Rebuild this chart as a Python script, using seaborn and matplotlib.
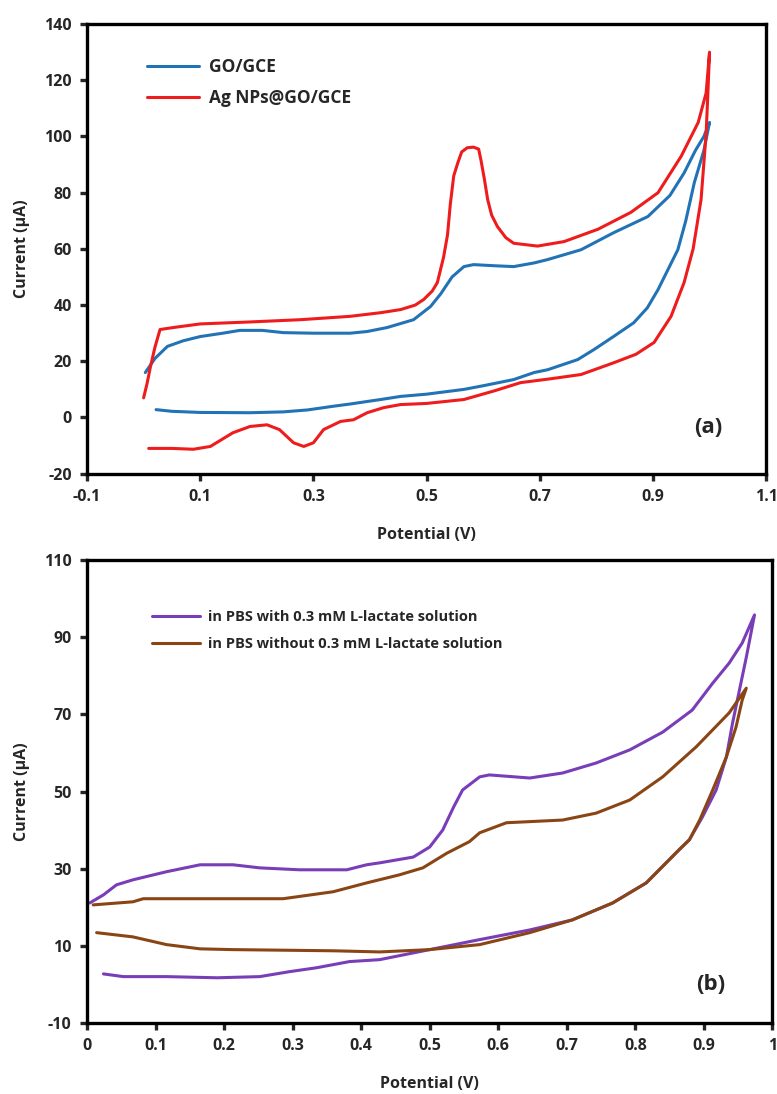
import pandas as pd
import matplotlib
matplotlib.use("Agg")
import matplotlib.pyplot as plt
import seaborn as sns

# (a) GO/GCE cyclic voltammogram, forward sweep then reverse sweep
go_v = [0.003, 0.02, 0.042, 0.07, 0.1, 0.14, 0.17, 0.21, 0.247, 0.3, 0.365, 0.395, 0.43, 0.477,
        0.507, 0.525, 0.545, 0.566, 0.583, 0.62, 0.654, 0.69, 0.714, 0.773, 0.831, 0.891, 0.93,
        0.955, 0.975, 0.99, 1.0,
        0.99, 0.973, 0.958, 0.944, 0.925, 0.909, 0.89, 0.866, 0.831, 0.796, 0.767, 0.714, 0.69,
        0.654, 0.6, 0.566, 0.5, 0.454, 0.419, 0.395, 0.365, 0.335, 0.29, 0.247, 0.188, 0.1, 0.05, 0.022]
go_i = [16, 21, 25.3, 27.3, 28.8, 30, 31, 31, 30.2, 30, 30, 30.6, 32, 34.8,
        39.5, 44, 50, 53.7, 54.4, 54, 53.7, 55, 56.2, 59.7, 65.8, 71.5, 79,
        87, 95, 100, 105,
        95, 83.5, 70, 59.7, 52, 45.5, 39, 33.7, 28.9, 24.2, 20.6, 17, 16,
        13.5, 11.3, 10, 8.3, 7.5, 6.4, 5.7, 4.8, 4, 2.7, 2, 1.7, 1.8, 2.2, 2.8]

# (a) Ag NPs@GO/GCE
ag_v = [0.0, 0.006, 0.012, 0.02, 0.029, 0.052, 0.1, 0.188, 0.277, 0.365, 0.419, 0.454, 0.48, 0.495,
        0.51, 0.519, 0.53, 0.537, 0.542, 0.548, 0.555, 0.562, 0.572, 0.583, 0.592, 0.596, 0.602,
        0.608, 0.615, 0.625, 0.64, 0.654, 0.696, 0.743, 0.803, 0.861, 0.909, 0.95, 0.98, 0.994, 1.0,
        0.997, 0.994, 0.985, 0.971, 0.955, 0.932, 0.902, 0.87, 0.831, 0.773, 0.72, 0.666, 0.62,
        0.566, 0.5, 0.454, 0.424, 0.395, 0.371, 0.348, 0.318, 0.3, 0.283, 0.265, 0.24, 0.218,
        0.188, 0.158, 0.118, 0.088, 0.05, 0.009]
ag_i = [7, 12, 18, 25, 31.3, 32, 33.3, 34, 34.8, 36, 37.3, 38.4, 40, 42,
        45, 48, 57, 65, 76, 86, 90.5, 94.5, 96, 96.2, 95.5, 91.7, 85,
        77.5, 72, 68, 64, 62, 61, 62.6, 67, 73, 80, 93, 105, 115.5, 130,
        115, 101, 77.5, 60, 48, 36, 26.7, 22.5, 19.5, 15.3, 13.8, 12.4, 9.5,
        6.4, 5, 4.6, 3.5, 1.7, -0.8, -1.4, -4.3, -9, -10.3, -9, -4.3, -2.6,
        -3.2, -5.4, -10.3, -11.3, -11, -11]

# (b) with 0.3 mM L-lactate
with_v = [0.004, 0.024, 0.043, 0.067, 0.116, 0.165, 0.213, 0.252, 0.31, 0.379, 0.408, 0.427, 0.476,
          0.5, 0.519, 0.535, 0.548, 0.573, 0.587, 0.646, 0.694, 0.743, 0.792, 0.84, 0.883, 0.913,
          0.937, 0.956, 0.974,
          0.962, 0.952, 0.942, 0.933, 0.918, 0.898, 0.879, 0.864, 0.816, 0.767, 0.708, 0.646,
          0.573, 0.5, 0.427, 0.383, 0.335, 0.296, 0.252, 0.19, 0.116, 0.053, 0.024]
with_i = [21.1, 23.2, 25.8, 27.1, 29.2, 31, 31, 30.2, 29.7, 29.7, 31, 31.5, 33,
          35.6, 40, 46, 50.4, 53.8, 54.3, 53.5, 54.8, 57.4, 60.8, 65.4, 71.1, 78.1,
          83.3, 88.5, 95.8,
          84.8, 76.3, 67.8, 59, 50.4, 43.4, 37.5, 34.9, 26.3, 21.1, 16.7, 14.1,
          11.6, 9, 6.4, 5.9, 4.3, 3.3, 2, 1.7, 2, 2, 2.7]

# (b) without L-lactate
without_v = [0.009, 0.067, 0.082, 0.165, 0.286, 0.359, 0.408, 0.456, 0.49, 0.525, 0.558, 0.573,
             0.612, 0.694, 0.743, 0.792, 0.84, 0.889, 0.937, 0.962,
             0.956, 0.947, 0.933, 0.913, 0.894, 0.879, 0.864, 0.816, 0.767, 0.708, 0.646,
             0.573, 0.5, 0.427, 0.359, 0.213, 0.165, 0.116, 0.067, 0.014]
without_i = [20.6, 21.4, 22.2, 22.2, 22.2, 24, 26.3, 28.4, 30.2, 34, 37, 39.3,
             41.9, 42.6, 44.4, 47.8, 53.8, 61.6, 70.4, 76.8,
             73.7, 66.7, 59, 50.4, 42.6, 37.5, 34.9, 26.3, 21.1, 16.7, 13.4,
             10.3, 9, 8.4, 8.7, 9, 9.2, 10.3, 12.3, 13.4]

labels_a = ["GO/GCE", "Ag NPs@GO/GCE"]
labels_b = ["in PBS with 0.3 mM L-lactate solution", "in PBS without 0.3 mM L-lactate solution"]
xticks_a = [-0.1, 0.1, 0.3, 0.5, 0.7, 0.9, 1.1]
yticks_a = [-20, 0, 20, 40, 60, 80, 100, 120, 140]
xticks_b = [0, 0.1, 0.2, 0.3, 0.4, 0.5, 0.6, 0.7, 0.8, 0.9, 1]
yticks_b = [-10, 10, 30, 50, 70, 90, 110]

sns.set_style("ticks")
plt.rcParams["font.family"] = ["Open Sans", "DejaVu Sans"]
plt.rcParams["font.weight"] = "bold"

fig = plt.figure(figsize=(7.77, 10.94), dpi=100)
ax1 = fig.add_axes([0.112, 0.567, 0.874, 0.411])
ax2 = fig.add_axes([0.112, 0.065, 0.882, 0.423])


def loop(v, i, name):
    return pd.DataFrame({"v": v, "i": i, "s": name})


df_a = pd.concat([loop(go_v, go_i, labels_a[0]), loop(ag_v, ag_i, labels_a[1])])
df_b = pd.concat([loop(with_v, with_i, labels_b[0]), loop(without_v, without_i, labels_b[1])])

sns.lineplot(data=df_a, x="v", y="i", hue="s", sort=False, estimator=None,
             palette=["#2273b5", "#ee1c1c"], linewidth=2.2, ax=ax1)
sns.lineplot(data=df_b, x="v", y="i", hue="s", sort=False, estimator=None,
             palette=["#7a3db8", "#8a4515"], linewidth=2.2, ax=ax2)


def style(ax, xt, yt, xlab):
    ax.set_xlim(xt[0], xt[-1])
    ax.set_ylim(yt[0], yt[-1])
    ax.set_xticks(xt)
    ax.set_yticks(yt)
    ax.set_xticklabels(xlab, fontweight="bold")
    ax.set_yticklabels([str(t) for t in yt], fontweight="bold")
    for s in ax.spines.values():
        s.set_visible(True)
        s.set_linewidth(2.4)
        s.set_color("black")
    ax.tick_params(direction="out", length=5, width=2.4, labelsize=11.5, pad=6)
    ax.set_xlabel("Potential (V)", fontsize=11.5, fontweight="bold", labelpad=16)
    ax.set_ylabel("Current (\u03bcA)", fontsize=11.5, fontweight="bold", labelpad=10)


style(ax1, xticks_a, yticks_a, [f"{t:g}" for t in xticks_a])
style(ax2, xticks_b, yticks_b, [f"{t:g}" for t in xticks_b])

ax1.legend(frameon=False, loc="upper left", bbox_to_anchor=(0.065, 0.96),
           handlelength=3.0, handletextpad=0.6, labelspacing=0.75, prop={"weight": "bold", "size": 12.5})
ax2.legend(frameon=False, loc="upper left", bbox_to_anchor=(0.075, 0.92),
           handlelength=3.3, handletextpad=0.6, labelspacing=0.9, prop={"weight": "bold", "size": 10.5})

ax1.text(0.915, 0.09, "(a)", transform=ax1.transAxes, fontsize=16, fontweight="bold", ha="center")
ax2.text(0.91, 0.07, "(b)", transform=ax2.transAxes, fontsize=16, fontweight="bold", ha="center")

fig.savefig("out.png", dpi=100)
